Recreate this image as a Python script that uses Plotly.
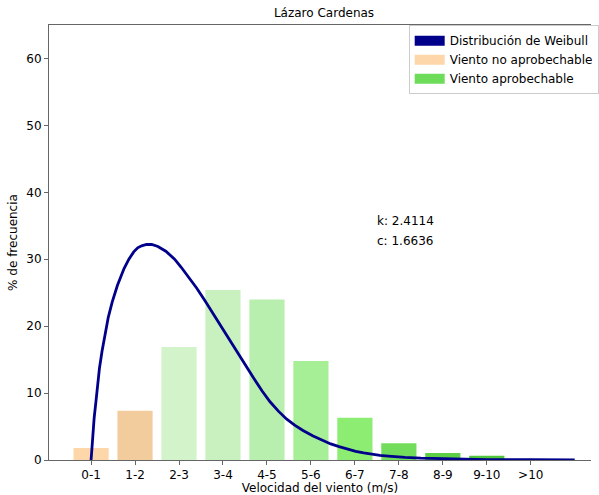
import plotly.graph_objects as go

categories = ["0-1", "1-2", "2-3", "3-4", "4-5", "5-6", "6-7", "7-8", "8-9", "9-10", ">10"]
frequencies = [1.8, 7.35, 16.9, 25.4, 24.0, 14.8, 6.3, 2.5, 1.05, 0.65, 0.15]
bar_colors = ["#fdd7a9", "#f2cc9d", "#d3f3cb", "#c8f1bf", "#b9efae", "#a6ef96",
              "#8ded73", "#72dc5b", "#5dcf45", "#52c63b", "#4cbf35"]

weibull_x = [0, 0.015, 0.04, 0.07, 0.11, 0.15, 0.19, 0.25, 0.31, 0.39, 0.48, 0.60, 0.75,
             0.86, 0.97, 1.06, 1.15, 1.26, 1.38, 1.52, 1.7, 1.9, 2.05,
             2.2, 2.4, 2.58, 2.77, 2.95, 3.14, 3.33, 3.52, 3.70, 3.89, 4.07, 4.26,
             4.45, 4.63, 4.82, 5.05, 5.27, 5.45, 5.64, 5.83, 6.02, 6.2, 6.39,
             6.57, 6.76, 6.95, 7.14, 7.5, 7.9, 8.4, 9.0, 10.0, 11.0]
weibull_y = [0, 1.5, 3.7, 6.3, 8.7, 11.3, 13.7, 16.3, 18.7, 21.3, 23.6, 26.1, 28.6,
             30.0, 31.1, 31.7, 32.0, 32.2, 32.2, 31.9, 31.2, 30.0, 28.8,
             27.5, 25.7, 23.9, 21.9, 19.9, 18.0, 16.1, 14.1, 12.2, 10.3, 8.7, 7.3,
             6.1, 5.2, 4.4, 3.6, 2.9, 2.4, 2.0, 1.6, 1.3, 1.05, 0.85,
             0.7, 0.58, 0.47, 0.38, 0.27, 0.19, 0.12, 0.07, 0.04, 0.02]

k_text = "k: 2.4114"
c_text = "c: 1.6636"

font_family = "DejaVu Sans"

fig = go.Figure()
fig.add_trace(go.Bar(
    x=list(range(len(categories))), y=frequencies, width=0.8,
    marker=dict(color=bar_colors, line=dict(width=0)), showlegend=False,
))
fig.add_trace(go.Scatter(
    x=weibull_x, y=weibull_y, mode="lines",
    line=dict(color="#00008b", width=2.8, shape="linear"),
    showlegend=False,
))
# legend entries (rectangular patches)
for name, col in [("Distribución de Weibull", "#00008b"),
                  ("Viento no aprobechable", "#fdd7a9"),
                  ("Viento aprobechable", "#6ddc58")]:
    fig.add_trace(go.Scatter(x=[None], y=[None], name=name, mode="lines",
                             line=dict(color=col, width=10)))

fig.add_annotation(x=6.46, y=35.7, text=k_text, showarrow=False, xanchor="left",
                   yanchor="middle", font=dict(size=12, color="#000", family=font_family))
fig.add_annotation(x=6.46, y=32.7, text=c_text, showarrow=False, xanchor="left",
                   yanchor="middle", font=dict(size=12, color="#000", family=font_family))

fig.update_layout(
    width=599, height=495,
    margin=dict(l=49, r=0, t=25, b=35),
    paper_bgcolor="white", plot_bgcolor="white",
    font=dict(family=font_family, size=12, color="#000"),
    title=dict(text="Lázaro Cardenas", x=(49 + 599) / 2 / 599, xanchor="center",
               y=1 - 13 / 495, yanchor="middle", font=dict(size=12, family=font_family)),
    barmode="overlay",
    legend=dict(x=(414 - 49) / 550, y=0.9995, xanchor="left", yanchor="top",
                bgcolor="white", bordercolor="#cccccc", borderwidth=1,
                font=dict(size=12, family=font_family), tracegroupgap=0,
                itemwidth=30),
    xaxis=dict(range=[-0.957, 11.37], tickvals=list(range(len(categories))),
               ticktext=categories, showline=True, linecolor="#666", linewidth=1,
               mirror=True, ticks="outside", ticklen=4, tickcolor="#666",
               showgrid=False, zeroline=False,
               title=dict(text="Velocidad del viento (m/s)", standoff=4,
                          font=dict(size=12))),
    yaxis=dict(range=[0, 65], tickvals=[0, 10, 20, 30, 40, 50, 60],
               showline=True, linecolor="#666", linewidth=1, mirror=False,
               ticks="outside", ticklen=4, tickcolor="#666",
               showgrid=False, zeroline=False,
               title=dict(text="% de frecuencia", standoff=6, font=dict(size=12))),
)

fig.write_html("out.html")
